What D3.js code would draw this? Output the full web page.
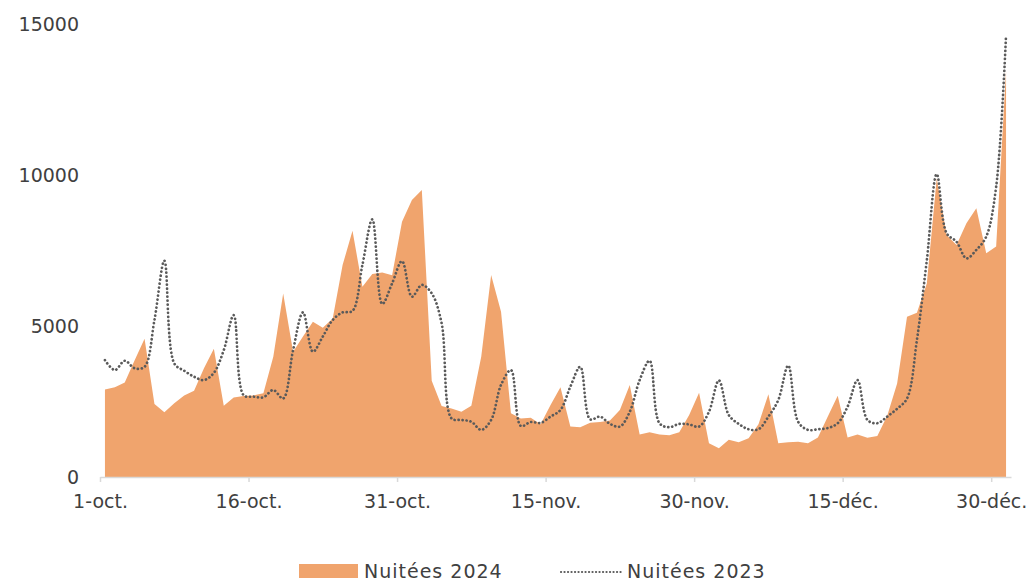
<!DOCTYPE html>
<html>
<head>
<meta charset="utf-8">
<script src="https://cdn.jsdelivr.net/npm/d3@7"></script>
<style>
  body { margin: 0; background: #fff; }
  text { font-family: "DejaVu Sans", sans-serif; fill: #404040; }
</style>
</head>
<body>
<div id="vis1"></div>
<script>
const FRAME_WIDTH = 1036;
const FRAME_HEIGHT = 581;

// daily nights, 1 Oct -> 31 Dec
const nuitees2024 = [
  2900, 2970, 3130, 3870, 4580, 2420, 2140, 2440, 2700, 2860,
  3600, 4250, 2360, 2630, 2680, 2700, 2770, 3980, 6080, 4150,
  4650, 5140, 4940, 5250, 7020, 8150, 6300, 6720, 6770, 6680,
  8450, 9170, 9500, 3190, 2350, 2270, 2160, 2360, 3980, 6690,
  5470, 2110, 1940, 1960, 1750, 2380, 2970, 1670, 1650, 1800,
  1820, 1870, 2220, 3050, 1410, 1480, 1410, 1380, 1480, 2050,
  2790, 1120, 950, 1230, 1150, 1280, 1750, 2740, 1120, 1150,
  1170, 1120, 1310, 2000, 2690, 1310, 1410, 1300, 1360, 2030,
  3100, 5310, 5440, 6410, 9890, 8010, 7680, 8400, 8900, 7410,
  7630, 13450
];
const nuitees2023 = [
  3870, 3540, 3850, 3600, 3650, 5200, 7160, 3760, 3520, 3320,
  3210, 3450, 4200, 5360, 2710, 2660, 2640, 2880, 2600, 4200,
  5450, 4150, 4650, 5200, 5450, 5500, 7020, 8530, 5730, 6410,
  7150, 5970, 6360, 6080, 5090, 1940, 1890, 1830, 1560, 1890,
  3050, 3540, 1690, 1820, 1790, 2000, 2220, 2990, 3650, 1910,
  2000, 1760, 1670, 2160, 3210, 3850, 1780, 1650, 1760, 1740,
  1670, 2160, 3200, 2050, 1760, 1580, 1580, 2000, 2550, 3690,
  1830, 1560, 1580, 1620, 1780, 2330, 3210, 1890, 1780, 2000,
  2260, 2600, 4540, 7180, 10030, 8070, 7790, 7240, 7520, 7960,
  9610, 14630
];

const xTickDays = [0, 15, 30, 45, 60, 75, 90];
const xTickLabels = ["1-oct.", "16-oct.", "31-oct.", "15-nov.", "30-nov.", "15-déc.", "30-déc."];
const yTicks = [0, 5000, 10000, 15000];
const seriesNames = ["Nuitées 2024", "Nuitées 2023"];

const svg = d3.select("#vis1")
  .append("svg")
    .attr("width", FRAME_WIDTH)
    .attr("height", FRAME_HEIGHT);

const x = d3.scaleLinear()
  .domain([0, nuitees2024.length])
  .range([100, 1011]);

const y = d3.scaleLinear()
  .domain([0, 15000])
  .range([477, 24]);

// 2024 area
svg.append("path")
  .datum(nuitees2024)
  .attr("fill", "#f0a46d")
  .attr("d", d3.area()
    .x((d, i) => x(i + 0.5))
    .y0(y(0))
    .y1(d => y(d)));

// x axis
const xAxis = svg.append("g")
  .attr("transform", "translate(0," + y(0) + ")")
  .call(d3.axisBottom(x)
    .tickValues(xTickDays)
    .tickFormat((d, i) => xTickLabels[i])
    .tickSize(5)
    .tickSizeOuter(0)
    .tickPadding(13));
xAxis.selectAll("path, line").attr("stroke", "#d9d9d9").attr("stroke-width", 1.5);
xAxis.selectAll("text").attr("font-size", 19).attr("font-family", "DejaVu Sans").attr("fill", "#404040");

// y axis, labels only
const yAxis = svg.append("g")
  .attr("transform", "translate(100,0)")
  .call(d3.axisLeft(y).tickValues(yTicks).tickFormat(d3.format("d")).tickSize(0).tickPadding(21));
yAxis.select(".domain").remove();
yAxis.selectAll("text").attr("font-size", 19).attr("font-family", "DejaVu Sans").attr("fill", "#404040");

// 2023 dotted line
svg.append("path")
  .datum(nuitees2023)
  .attr("fill", "none")
  .attr("stroke", "#5a5a5a")
  .attr("stroke-width", 2.7)
  .attr("stroke-linecap", "round")
  .attr("stroke-dasharray", "0.1 3.9")
  .attr("d", d3.line()
    .x((d, i) => x(i + 0.5))
    .y(d => y(d))
    .curve(d3.curveCatmullRom.alpha(0.5)));

// legend
const legend = svg.append("g");
legend.append("rect")
  .attr("x", 299).attr("y", 564)
  .attr("width", 59).attr("height", 14)
  .attr("fill", "#f0a46d");
legend.append("text")
  .attr("x", 364).attr("y", 578)
  .attr("font-size", 19).attr("letter-spacing", 1)
  .text(seriesNames[0]);
legend.append("line")
  .attr("x1", 561).attr("x2", 621)
  .attr("y1", 572).attr("y2", 572)
  .attr("stroke", "#5a5a5a")
  .attr("stroke-width", 2.2)
  .attr("stroke-linecap", "round")
  .attr("stroke-dasharray", "0.1 3.4");
legend.append("text")
  .attr("x", 627).attr("y", 578)
  .attr("font-size", 19).attr("letter-spacing", 1)
  .text(seriesNames[1]);
</script>
</body>
</html>
